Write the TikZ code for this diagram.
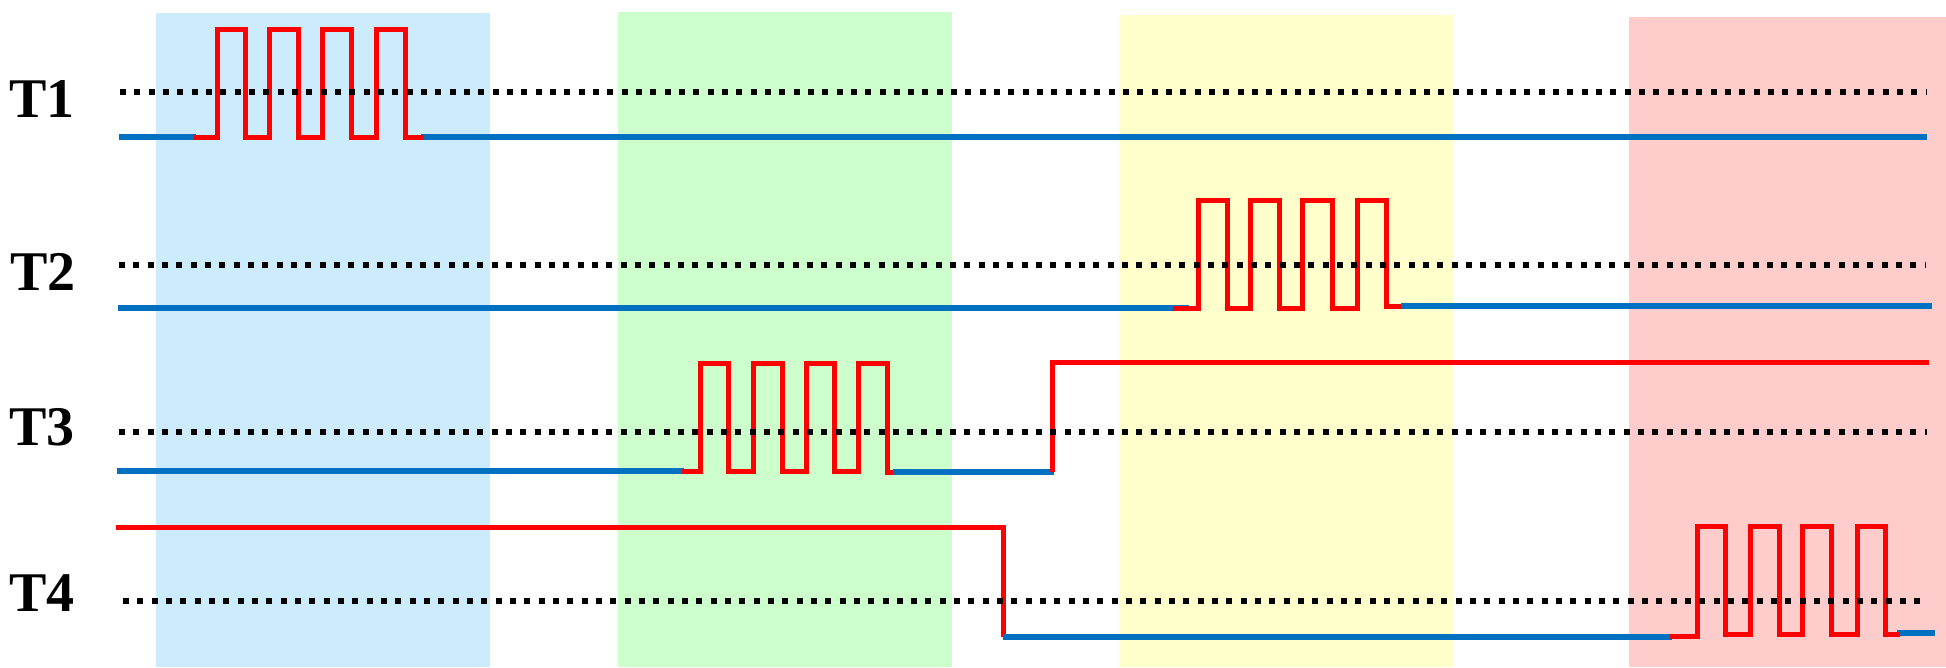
\documentclass[tikz,border=0pt]{standalone}
\usepackage{fontspec}
\setmainfont{Liberation Serif}
\definecolor{bgblue}{HTML}{CCEBFD}
\definecolor{bggreen}{HTML}{CCFFCC}
\definecolor{bgyellow}{HTML}{FFFFCC}
\definecolor{bgred}{HTML}{FFCCCC}
\definecolor{lowblue}{HTML}{0070C0}
\definecolor{highred}{HTML}{FF0000}
\begin{document}
\begin{tikzpicture}[x=1pt,y=-1pt,
  lowsig/.style={draw=lowblue,line width=5.5pt},
  highsig/.style={draw=highred,line width=5pt,line join=miter},
  refline/.style={draw=black,line width=6pt,dash pattern=on 6pt off 8.33pt},
  lbl/.style={font=\bfseries\fontsize{56}{60}\selectfont,anchor=base,inner sep=0pt}]
\useasboundingbox (0,0) rectangle (1946,667);
% background bands
\fill[bgblue]   (156,13) rectangle (490,667);
\fill[bggreen]  (618,12) rectangle (952,667);
\fill[bgyellow] (1119,15) rectangle (1453,667);
\fill[bgred]    (1629,17) rectangle (1946,667);
% labels
\node[lbl] (t1) at (42,117) {T1};
\node[lbl] (t2) at (43,290) {T2};
\node[lbl] (t3) at (42,445) {T3};
\node[lbl] (t4) at (42,611) {T4};
% T1
\draw[lowsig] (119,137) -- (196,137);
\draw[lowsig] (421,137) -- (1927,137);
\draw[highsig] (194,137) -- (217,137) -- (217,29) -- (245,29) -- (245,137) -- (269,137) -- (269,29) -- (298,29) -- (298,137) -- (322,137) -- (322,29) -- (351,29) -- (351,137) -- (376,137) -- (376,29) -- (405,29) -- (405,137) -- (423,137);
% T2
\draw[lowsig] (118,308) -- (1189,308);
\draw[lowsig] (1401,306) -- (1932,306);
\draw[highsig] (1173,308) -- (1198,308) -- (1198,200) -- (1227,200) -- (1227,308) -- (1250,308) -- (1250,200) -- (1279,200) -- (1279,308) -- (1302,308) -- (1302,200) -- (1332,200) -- (1332,308) -- (1357,308) -- (1357,200) -- (1386,200) -- (1386,306) -- (1401,306);
% T3
\draw[lowsig] (117,471) -- (684,471);
\draw[lowsig] (893,472) -- (1054,472);
\draw[highsig] (682,471) -- (700,471) -- (700,363) -- (728,363) -- (728,471) -- (753,471) -- (753,363) -- (782,363) -- (782,471) -- (806,471) -- (806,363) -- (834,363) -- (834,471) -- (858,471) -- (858,363) -- (887,363) -- (887,472) -- (893,472);
\draw[highsig] (1052,472) -- (1052,362) -- (1929,362);
% T4
\draw[highsig] (116,527) -- (1003,527) -- (1003,637);
\draw[lowsig] (1003,637) -- (1672,637);
\draw[lowsig] (1897,633) -- (1935,633);
\draw[highsig] (1670,636) -- (1697,636) -- (1697,526) -- (1725,526) -- (1725,634) -- (1750,634) -- (1750,526) -- (1779,526) -- (1779,634) -- (1802,634) -- (1802,526) -- (1831,526) -- (1831,634) -- (1857,634) -- (1857,526) -- (1885,526) -- (1885,634) -- (1900,634);
% reference dotted lines
\draw[refline] (120,92) -- (1927,92);
\draw[refline] (119,265) -- (1926,265);
\draw[refline] (119,432) -- (1927,432);
\draw[refline] (123,601) -- (1928,601);
\end{tikzpicture}
\end{document}
